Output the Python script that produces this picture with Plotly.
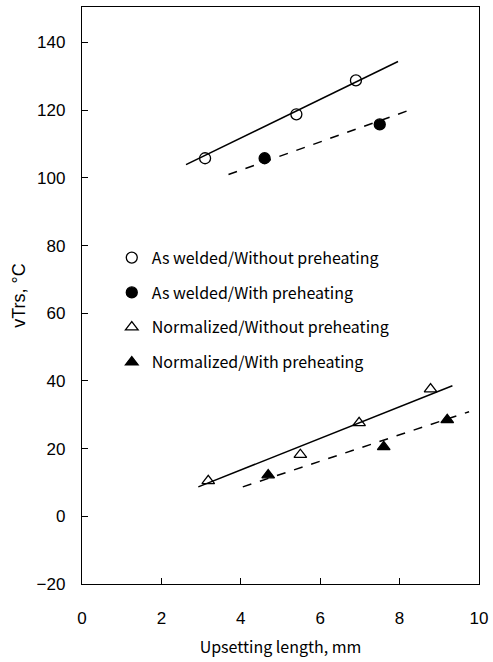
import plotly.graph_objects as go

# Data
aw_wo_x = [3.1, 5.4, 6.9]
aw_wo_y = [105.8, 118.8, 128.8]
aw_w_x = [4.6, 7.5]
aw_w_y = [105.8, 115.8]
nm_wo_x = [3.18, 5.5, 6.98, 8.78]
nm_wo_y = [10.5, 18.2, 27.6, 37.6]
nm_w_x = [4.69, 7.6, 9.2]
nm_w_y = [12.2, 20.5, 28.5]

# Fitted lines (end points)
fit_aw_wo_x = [2.62, 7.96]
fit_aw_wo_y = [103.9, 134.4]
fit_aw_w_x = [3.69, 8.29]
fit_aw_w_y = [101.0, 120.2]
fit_nm_wo_x = [2.93, 9.33]
fit_nm_wo_y = [8.7, 38.6]
fit_nm_w_x = [4.05, 9.75]
fit_nm_w_y = [8.7, 30.9]

names = ["As welded/Without preheating", "As welded/With preheating",
         "Normalized/Without preheating", "Normalized/With preheating"]

x_ticks = [0, 2, 4, 6, 8, 10]
y_ticks = [-20, 0, 20, 40, 60, 80, 100, 120, 140]

fig = go.Figure()

for fx, fy, dash in [(fit_aw_wo_x, fit_aw_wo_y, "solid"), (fit_aw_w_x, fit_aw_w_y, "dash"),
                     (fit_nm_wo_x, fit_nm_wo_y, "solid"), (fit_nm_w_x, fit_nm_w_y, "dash")]:
    fig.add_trace(go.Scatter(x=fx, y=fy, mode="lines", showlegend=False,
                             line=dict(color="black", width=1.5, dash=dash)))

series = [
    (aw_wo_x, aw_wo_y, "circle-open", 11),
    (aw_w_x, aw_w_y, "circle", 11),
    (nm_wo_x, nm_wo_y, "triangle-up-open", 11),
    (nm_w_x, nm_w_y, "triangle-up", 11),
]
for i, (sx, sy, sym, sz) in enumerate(series):
    fig.add_trace(go.Scatter(x=sx, y=sy, mode="markers", name=names[i], legendgroup=str(i),
                             marker=dict(symbol=sym, size=sz, color="black",
                                         line=dict(color="black", width=1.3))))

font_txt = "Noto Sans CJK JP, Liberation Sans, Arial"
font_num = "Liberation Sans, Arial"

fig.update_layout(
    width=493, height=662,
    margin=dict(l=82, r=14, t=7, b=78),
    paper_bgcolor="white", plot_bgcolor="white",
    showlegend=True,
    legend=dict(x=0.075, y=0.595, xanchor="left", yanchor="top",
                font=dict(family=font_txt, size=16, color="black"),
                tracegroupgap=11, bgcolor="rgba(0,0,0,0)", itemwidth=30),
    xaxis=dict(range=[0, 10], tickvals=x_ticks, ticks="inside", ticklen=6,
               tickcolor="black", showgrid=False, zeroline=False, automargin=False,
               showline=True, linecolor="black", linewidth=1.3, mirror=True,
               ticklabelstandoff=18,
               tickfont=dict(family=font_num, size=17, color="black"),
               title=dict(text="Upsetting length, mm", standoff=15,
                          font=dict(family=font_txt, size=16, color="black"))),
    yaxis=dict(range=[-20, 150.5], tickvals=y_ticks, ticks="inside", ticklen=6,
               tickcolor="black", showgrid=False, zeroline=False, automargin=False,
               showline=True, linecolor="black", linewidth=1.3, mirror=True,
               ticklabelstandoff=12,
               tickfont=dict(family=font_num, size=17, color="black"),
               title=dict(text="vTrs, °C", standoff=6,
                          font=dict(family=font_num, size=18, color="black"))),
)

fig.write_html("out.html", config={"displayModeBar": False},
               post_script="document.body.style.margin='0';document.body.style.padding='0';")
